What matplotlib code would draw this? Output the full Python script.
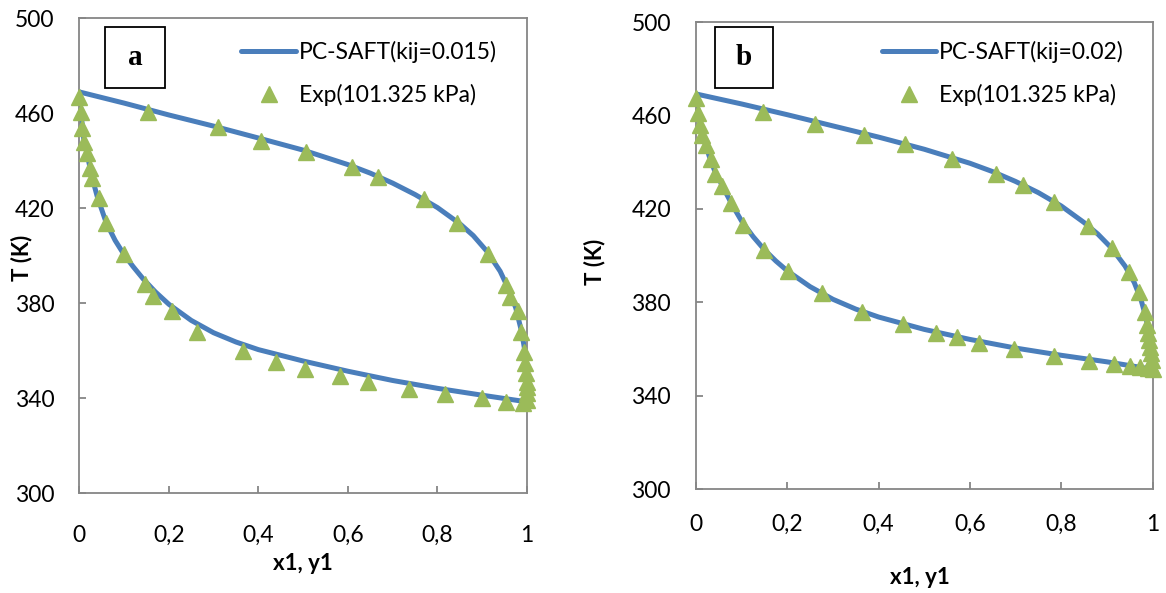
import matplotlib
matplotlib.use("Agg")
import matplotlib.pyplot as plt
from matplotlib.lines import Line2D

plt.rcParams['font.family'] = ['Lato', 'DejaVu Sans']

# ---------------- Panel a data ----------------
a_dew_line_x = [0, 0.1, 0.2, 0.3, 0.4, 0.5, 0.6, 0.65, 0.7, 0.75, 0.8, 0.85, 0.88, 0.91, 0.94, 0.96, 0.975, 0.988, 0.997, 1.0, 1.0]
a_dew_line_T = [469, 464.3, 459.3, 454.6, 449.6, 444.5, 438.4, 434.8, 430.6, 425.8, 420.3, 413.5, 408.5, 402.0, 393.5, 385.5, 378.0, 368.0, 358.0, 350.0, 338.5]
a_bub_line_x = [0, 0.005, 0.01, 0.02, 0.03, 0.04, 0.06, 0.08, 0.1, 0.12, 0.143, 0.17, 0.2, 0.25, 0.3, 0.35, 0.4, 0.5, 0.6, 0.7, 0.8, 0.9, 1.0]
a_bub_line_T = [469, 458, 449, 440.5, 432, 425, 414, 406.5, 400.5, 395.5, 390.2, 384.8, 379.6, 372.8, 367.6, 363.7, 360.5, 355.7, 351.4, 347.5, 344.2, 341.3, 338.5]

a_exp_x = [0, 0.154, 0.310, 0.406, 0.506, 0.608, 0.668, 0.770, 0.844, 0.913, 0.952, 0.963, 0.979, 0.986, 0.993, 0.996, 0.998, 0.999, 0.999, 1.0, 1.0,
           0.003, 0.007, 0.011, 0.017, 0.024, 0.028, 0.043, 0.059, 0.100, 0.147, 0.164, 0.207, 0.264, 0.366, 0.440, 0.505, 0.582, 0.645, 0.736, 0.816, 0.900, 0.954, 0.990]
a_exp_T = [467, 460.7, 454.4, 448.5, 443.8, 437.3, 433.1, 423.8, 413.9, 400.8, 387.7, 382.8, 376.8, 368.0, 359.6, 354.7, 350.5, 347.0, 344.9, 342.1, 339.3,
           460.7, 453.7, 448.0, 443.4, 436.8, 432.6, 424.2, 413.7, 400.8, 388.1, 383.2, 376.9, 368.0, 359.9, 355.4, 352.2, 349.4, 347.0, 343.8, 341.8, 340.0, 338.6, 337.9]

# ---------------- Panel b data ----------------
b_dew_line_x = [0, 0.1, 0.2, 0.3, 0.4, 0.5, 0.6, 0.65, 0.7, 0.75, 0.8, 0.85, 0.88, 0.91, 0.94, 0.96, 0.975, 0.985, 0.993, 0.998, 1.0]
b_dew_line_T = [469.3, 465.0, 460.4, 455.6, 450.8, 445.6, 439.6, 436.0, 431.8, 427.0, 421.3, 414.2, 409.3, 403.3, 395.5, 388.5, 381.0, 374.0, 366.0, 358.0, 351.3]
b_bub_line_x = [0, 0.005, 0.01, 0.02, 0.03, 0.04, 0.06, 0.08, 0.1, 0.125, 0.15, 0.175, 0.2, 0.25, 0.3, 0.35, 0.4, 0.5, 0.6, 0.7, 0.8, 0.9, 1.0]
b_bub_line_T = [469.3, 461, 455.5, 448, 442, 436.8, 429, 421.5, 414.8, 408.2, 402.5, 397.7, 393.5, 386.7, 381.3, 377.1, 373.7, 368.4, 364.1, 360.4, 357.3, 354.5, 351.3]

b_exp_x = [0, 0.147, 0.261, 0.367, 0.458, 0.561, 0.657, 0.716, 0.785, 0.858, 0.912, 0.949, 0.970, 0.983, 0.989, 0.991, 0.993, 0.995, 0.997, 0.998, 0.999,
           0.005, 0.009, 0.014, 0.021, 0.032, 0.042, 0.058, 0.076, 0.104, 0.150, 0.202, 0.275, 0.363, 0.454, 0.526, 0.571, 0.619, 0.697, 0.785, 0.861, 0.916, 0.951, 0.973, 0.991, 1.0]
b_exp_T = [467.4, 461.7, 456.3, 451.7, 447.7, 441.4, 434.9, 430.3, 422.9, 412.9, 403.2, 393.2, 384.3, 376.0, 370.3, 366.7, 363.9, 361.0, 358.2, 355.3, 351.7,
           461.0, 456.0, 451.7, 447.4, 441.3, 435.0, 429.9, 422.7, 413.2, 402.6, 393.3, 384.1, 375.7, 370.7, 367.0, 365.0, 362.6, 359.9, 357.0, 354.9, 353.5, 352.7, 352.2, 351.7, 351.3]

x_ticks = [0, 0.2, 0.4, 0.6, 0.8, 1.0]
x_tick_labels = ['0', '0,2', '0,4', '0,6', '0,8', '1']
y_ticks = [300, 340, 380, 420, 460, 500]
y_tick_labels = ['300', '340', '380', '420', '460', '500']

panels = [
    dict(letter='a', kij='PC-SAFT(kij=0.015)', dlx=a_dew_line_x, dlT=a_dew_line_T, blx=a_bub_line_x, blT=a_bub_line_T,
         ex=a_exp_x, eT=a_exp_T),
    dict(letter='b', kij='PC-SAFT(kij=0.02)', dlx=b_dew_line_x, dlT=b_dew_line_T, blx=b_bub_line_x, blT=b_bub_line_T,
         ex=b_exp_x, eT=b_exp_T),
]

W, H = 1166, 593
fig = plt.figure(figsize=(W / 100, H / 100), dpi=100)

# pixel geometry of plot areas: (left, top, right, bottom)
geoms = [(79.3, 18.3, 527.0, 493.3), (696.0, 22.3, 1152.5, 489.0)]
xpads = [23, 18]
xlab_pos = [(303, 563), (920, 578)]
ylab_pos = [(22, 258), (595, 262)]
letter_box = [(105, 27, 165, 88), (715, 27, 773, 88)]
legend_anchor = [(0.352, 0.962), (0.397, 0.970)]

line_color = '#4A7EBB'
marker_color = '#9BBB59'
gray = '#868686'
FS = 16.5

for i, p in enumerate(panels):
    l, t, r, b = geoms[i]
    ax = fig.add_axes([l / W, 1 - b / H, (r - l) / W, (b - t) / H])
    ax.plot(p['dlx'], p['dlT'], color=line_color, lw=3.6, solid_capstyle='round', solid_joinstyle='round', zorder=2)
    ax.plot(p['blx'], p['blT'], color=line_color, lw=3.6, solid_capstyle='round', solid_joinstyle='round', zorder=2)
    ax.plot(p['ex'], p['eT'], linestyle='none', marker='^', markersize=12, color=marker_color,
            markeredgecolor=marker_color, zorder=3, clip_on=False)
    ax.set_xlim(0, 1)
    ax.set_ylim(300, 500)
    ax.set_xticks(x_ticks)
    ax.set_xticklabels(x_tick_labels)
    ax.set_yticks(y_ticks)
    ax.set_yticklabels(y_tick_labels)
    for s in ax.spines.values():
        s.set_color(gray)
        s.set_linewidth(1.3)
    ax.tick_params(axis='both', direction='in', length=5, width=1.3, color=gray, labelsize=FS, labelcolor='black')
    ax.tick_params(axis='y', pad=18)
    ax.tick_params(axis='x', pad=xpads[i])

    handles = [Line2D([], [], color=line_color, lw=3.6, solid_capstyle='round'),
               Line2D([], [], linestyle='none', marker='^', markersize=12, color=marker_color)]
    ax.legend(handles, [p['kij'], 'Exp(101.325 kPa)'], loc='upper left', bbox_to_anchor=legend_anchor[i],
              frameon=False, fontsize=FS, handlelength=2.36, handletextpad=0.13, labelspacing=0.9,
              borderaxespad=0, borderpad=0.2)

    bx0, by0, bx1, by1 = letter_box[i]
    fig.patches.append(plt.Rectangle((bx0 / W, 1 - by1 / H), (bx1 - bx0) / W, (by1 - by0) / H,
                                     transform=fig.transFigure, fill=False, edgecolor='black', lw=1.3, zorder=5))
    fig.text((bx0 + bx1) / 2 / W, 1 - (by0 + by1) / 2 / H, p['letter'], ha='center', va='center',
             fontsize=21, fontweight='bold', family=['Liberation Serif', 'DejaVu Serif'])

    fig.text(xlab_pos[i][0] / W, 1 - xlab_pos[i][1] / H, 'x1, y1', ha='center', va='center',
             fontsize=16, fontweight='bold')
    fig.text(ylab_pos[i][0] / W, 1 - ylab_pos[i][1] / H, 'T (K)', ha='center', va='center',
             fontsize=16, fontweight='bold', rotation=90)

fig.savefig('out.png', dpi=100)
